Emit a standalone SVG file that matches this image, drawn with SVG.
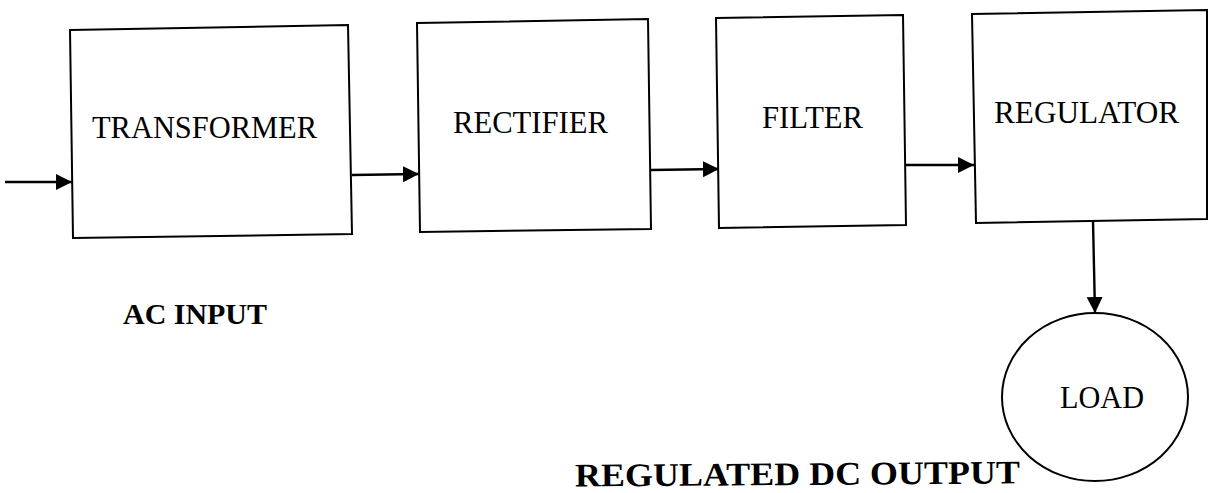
<svg xmlns="http://www.w3.org/2000/svg" width="1209" height="493" viewBox="0 0 1209 493">
<style>
.box{fill:#fff;stroke:#000;stroke-width:2}
.lbl{font-family:"Liberation Serif","Times New Roman",serif;font-size:31px;fill:#000}
.cap{font-family:"Liberation Serif","Times New Roman",serif;font-weight:bold;fill:#000}
.conn{stroke:#000;stroke-width:2.4;fill:none;marker-end:url(#ah)}
</style>
<defs>
<marker id="ah" markerUnits="userSpaceOnUse" markerWidth="17" markerHeight="17" refX="16" refY="8" orient="auto">
<path d="M0,0 L16,8 L0,16 Z" fill="#000"/>
</marker>
</defs>
<rect width="1209" height="493" fill="#fff"/>
<g id="transformer">
<polygon class="box" points="70,30 348,25 352,234 73,238"/>
<text class="lbl" x="92" y="138" textLength="225" lengthAdjust="spacingAndGlyphs">TRANSFORMER</text>
</g>
<g id="rectifier">
<polygon class="box" points="417,23 648,19 651,229 420,232"/>
<text class="lbl" x="453" y="133" textLength="155" lengthAdjust="spacingAndGlyphs">RECTIFIER</text>
</g>
<g id="filter">
<polygon class="box" points="716,18 903,15 906,225 719,228"/>
<text class="lbl" x="762" y="128" textLength="101" lengthAdjust="spacingAndGlyphs">FILTER</text>
</g>
<g id="regulator">
<polygon class="box" points="972,14 1207,10 1207,219 976,223"/>
<text class="lbl" x="994" y="123" textLength="185" lengthAdjust="spacingAndGlyphs">REGULATOR</text>
</g>
<g id="load">
<ellipse class="box" cx="1095" cy="397" rx="93" ry="84"/>
<text class="lbl" x="1060" y="408" textLength="84" lengthAdjust="spacingAndGlyphs">LOAD</text>
</g>
<g id="labels">
<text class="cap" x="123" y="324" font-size="30" textLength="144" lengthAdjust="spacingAndGlyphs">AC INPUT</text>
<text class="cap" x="575" y="485" font-size="33" textLength="445" lengthAdjust="spacingAndGlyphs" transform="rotate(-0.4 797 485)">REGULATED DC OUTPUT</text>
</g>
<g id="connectors">
<line class="conn" x1="5" y1="182" x2="72" y2="182"/>
<line class="conn" x1="352" y1="175" x2="419" y2="174"/>
<line class="conn" x1="651" y1="170" x2="719" y2="169"/>
<line class="conn" x1="906" y1="165" x2="974" y2="165"/>
<line class="conn" x1="1093" y1="221" x2="1095" y2="313"/>
</g>
</svg>
